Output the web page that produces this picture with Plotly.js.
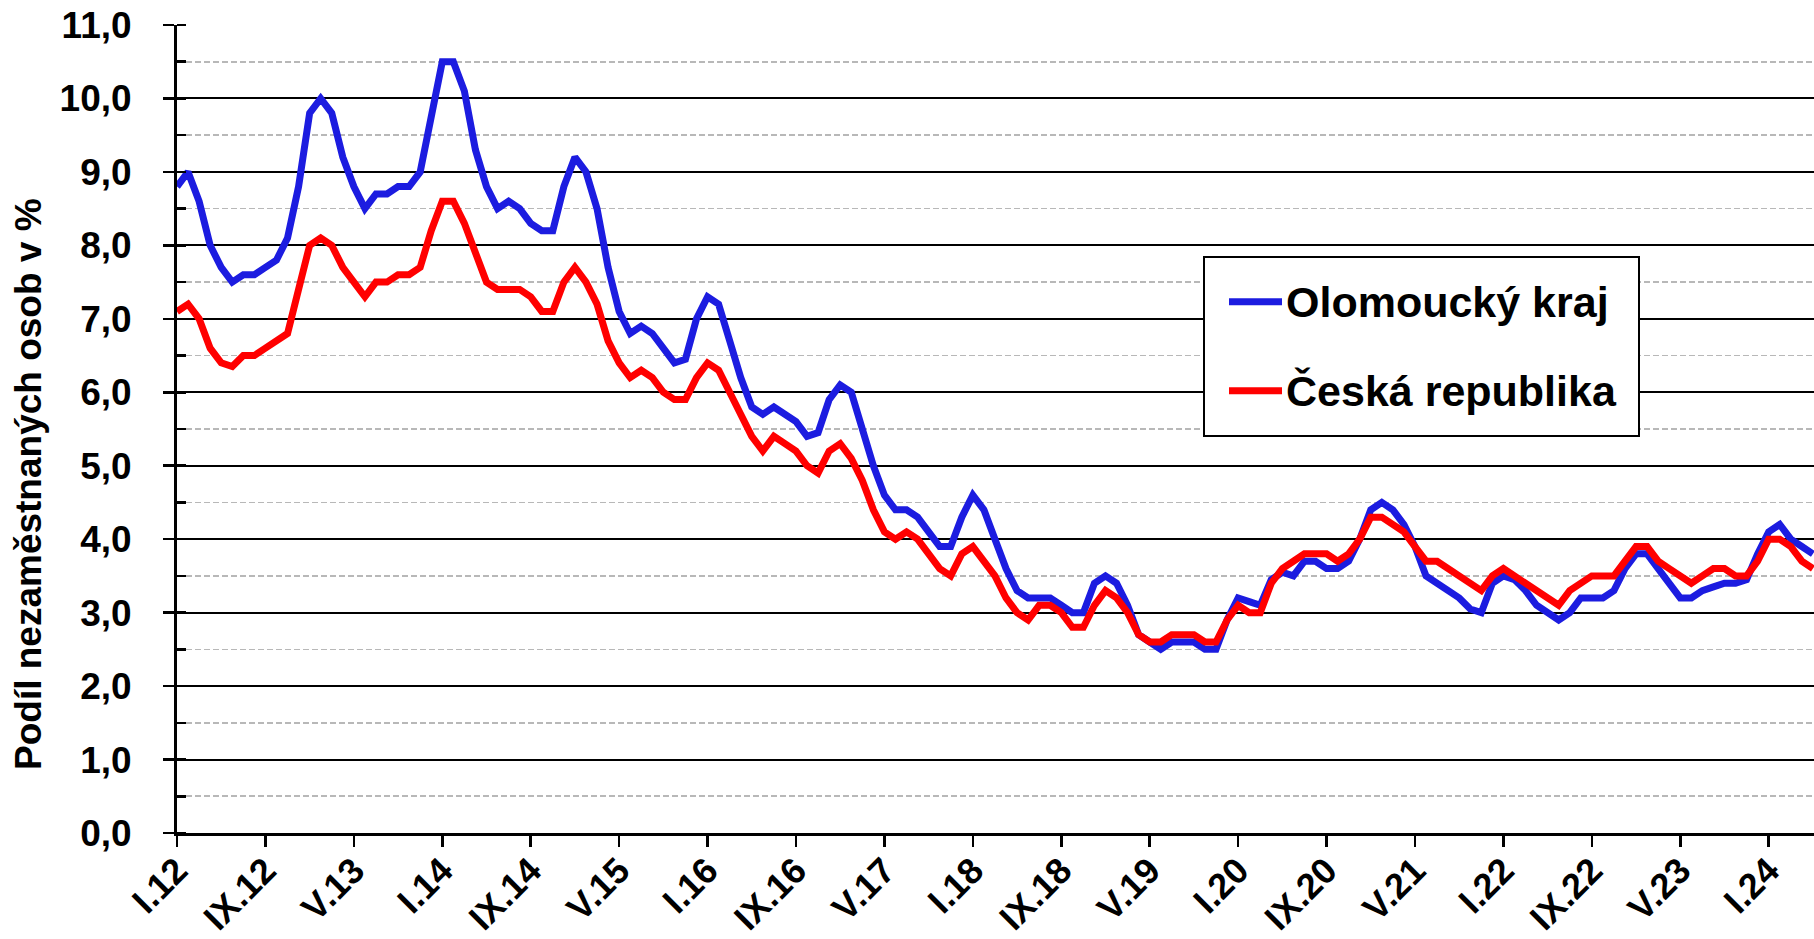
<!DOCTYPE html>
<html>
<head>
<meta charset="utf-8">
<script src="https://cdn.plot.ly/plotly-3.0.1.min.js"></script>
<style>
html, body { margin: 0; padding: 0; background: #ffffff; }
#chart { width: 1814px; height: 939px; }
</style>
</head>
<body>
<div id="chart"></div>
<script>
// ---- data ----
const romanMonths = ['I','II','III','IV','V','VI','VII','VIII','IX','X','XI','XII'];
const yearLabels = ['12','13','14','15','16','17','18','19','20','21','22','23','24'];
const pointCount = 149; // I.12 ... V.24

const months = [];
for (const yy of yearLabels) {
  for (const mm of romanMonths) {
    if (months.length < pointCount) months.push(mm + '.' + yy);
  }
}

const olomouckyKraj = [
  8.8, 9.0, 8.6, 8.0, 7.7, 7.5, 7.6, 7.6, 7.7, 7.8, 8.1, 8.8,
  9.8, 10.0, 9.8, 9.2, 8.8, 8.5, 8.7, 8.7, 8.8, 8.8, 9.0, 9.8,
  10.5, 10.5, 10.1, 9.3, 8.8, 8.5, 8.6, 8.5, 8.3, 8.2, 8.2, 8.8,
  9.2, 9.0, 8.5, 7.7, 7.1, 6.8, 6.9, 6.8, 6.6, 6.4, 6.45, 7.0,
  7.3, 7.2, 6.7, 6.2, 5.8, 5.7, 5.8, 5.7, 5.6, 5.4, 5.45, 5.9,
  6.1, 6.0, 5.5, 5.0, 4.6, 4.4, 4.4, 4.3, 4.1, 3.9, 3.9, 4.3,
  4.6, 4.4, 4.0, 3.6, 3.3, 3.2, 3.2, 3.2, 3.1, 3.0, 3.0, 3.4,
  3.5, 3.4, 3.1, 2.7, 2.6, 2.5, 2.6, 2.6, 2.6, 2.5, 2.5, 2.9,
  3.2, 3.15, 3.1, 3.45, 3.55, 3.5, 3.7, 3.7, 3.6, 3.6, 3.7, 4.0,
  4.4, 4.5, 4.4, 4.2, 3.9, 3.5, 3.4, 3.3, 3.2, 3.05, 3.0, 3.4,
  3.5, 3.45, 3.3, 3.1, 3.0, 2.9, 3.0, 3.2, 3.2, 3.2, 3.3, 3.6,
  3.8, 3.8, 3.6, 3.4, 3.2, 3.2, 3.3, 3.35, 3.4, 3.4, 3.45, 3.8,
  4.1, 4.2, 4.0, 3.9, 3.8
];

const ceskaRepublika = [
  7.1, 7.2, 7.0, 6.6, 6.4, 6.35, 6.5, 6.5, 6.6, 6.7, 6.8, 7.4,
  8.0, 8.1, 8.0, 7.7, 7.5, 7.3, 7.5, 7.5, 7.6, 7.6, 7.7, 8.2,
  8.6, 8.6, 8.3, 7.9, 7.5, 7.4, 7.4, 7.4, 7.3, 7.1, 7.1, 7.5,
  7.7, 7.5, 7.2, 6.7, 6.4, 6.2, 6.3, 6.2, 6.0, 5.9, 5.9, 6.2,
  6.4, 6.3, 6.0, 5.7, 5.4, 5.2, 5.4, 5.3, 5.2, 5.0, 4.9, 5.2,
  5.3, 5.1, 4.8, 4.4, 4.1, 4.0, 4.1, 4.0, 3.8, 3.6, 3.5, 3.8,
  3.9, 3.7, 3.5, 3.2, 3.0, 2.9, 3.1, 3.1, 3.0, 2.8, 2.8, 3.1,
  3.3, 3.2, 3.0, 2.7, 2.6, 2.6, 2.7, 2.7, 2.7, 2.6, 2.6, 2.9,
  3.1, 3.0, 3.0, 3.4, 3.6, 3.7, 3.8, 3.8, 3.8, 3.7, 3.8, 4.0,
  4.3, 4.3, 4.2, 4.1, 3.9, 3.7, 3.7, 3.6, 3.5, 3.4, 3.3, 3.5,
  3.6, 3.5, 3.4, 3.3, 3.2, 3.1, 3.3, 3.4, 3.5, 3.5, 3.5, 3.7,
  3.9, 3.9, 3.7, 3.6, 3.5, 3.4, 3.5, 3.6, 3.6, 3.5, 3.5, 3.7,
  4.0, 4.0, 3.9, 3.7, 3.6
];

const xTickLabels = ['I.12','IX.12','V.13','I.14','IX.14','V.15','I.16','IX.16','V.17',
  'I.18','IX.18','V.19','I.20','IX.20','V.21','I.22','IX.22','V.23','I.24'];

const seriesNames = ['Olomoucký kraj', 'Česká republika'];
const seriesColors = ['#1c1ce0', '#ff0000'];
const yTitle = 'Podíl nezaměstnaných osob v %';

// ---- layout geometry (pixels) ----
const W = 1814, H = 939;
const M = { l: 177, r: 0, t: 25, b: 106 };
const PW = W - M.l - M.r, PH = H - M.t - M.b;
const px = v => (v - M.l) / PW;
const py = v => (H - M.b - v) / PH;

const FONT = 'Liberation Sans, Arial, sans-serif';

const traces = [
  { x: months, y: olomouckyKraj, name: seriesNames[0], type: 'scatter', mode: 'lines',
    line: { color: seriesColors[0], width: 7, shape: 'linear' }, showlegend: false },
  { x: months, y: ceskaRepublika, name: seriesNames[1], type: 'scatter', mode: 'lines',
    line: { color: seriesColors[1], width: 7, shape: 'linear' }, showlegend: false }
];

const legBox = { x0: 1204, x1: 1639, y0: 257, y1: 436 };
const legRows = [301.7, 390.7];

const shapes = [
  { type: 'rect', xref: 'paper', yref: 'paper', layer: 'above',
    x0: px(legBox.x0), x1: px(legBox.x1), y0: py(legBox.y1), y1: py(legBox.y0),
    fillcolor: '#ffffff', line: { color: '#000000', width: 2 } }
];
const annotations = [
  { xref: 'paper', yref: 'paper', x: px(29), y: py(484), text: yTitle, textangle: -90,
    showarrow: false, xanchor: 'center', yanchor: 'middle',
    font: { family: FONT, size: 37, color: '#000', weight: 700 } }
];
seriesNames.forEach((nm, i) => {
  shapes.push({ type: 'line', xref: 'paper', yref: 'paper', layer: 'above',
    x0: px(1229), x1: px(1282), y0: py(legRows[i]), y1: py(legRows[i]),
    line: { color: seriesColors[i], width: 7 } });
  annotations.push({ xref: 'paper', yref: 'paper', x: px(1284), y: py(legRows[i]),
    text: nm, showarrow: false, xanchor: 'left', yanchor: 'middle',
    font: { family: FONT, size: 43, color: '#000', weight: 700 } });
});

const layout = {
  width: W, height: H,
  margin: M,
  paper_bgcolor: '#ffffff', plot_bgcolor: '#ffffff',
  separators: ', ',
  showlegend: false,
  font: { family: FONT, color: '#000' },
  xaxis: {
    type: 'category',
    range: [0, pointCount - 1 + 0.1],
    tickmode: 'array', tickvals: xTickLabels, ticktext: xTickLabels,
    tickangle: -45,
    ticks: 'outside', ticklen: 11, tickwidth: 2.5, tickcolor: '#000',
    ticklabelstandoff: -12,
    showline: true, linecolor: '#000', linewidth: 3,
    showgrid: false, zeroline: false,
    tickfont: { family: FONT, size: 36, color: '#000', weight: 700 },
    fixedrange: true
  },
  yaxis: {
    range: [0, 11],
    tickmode: 'linear', tick0: 0, dtick: 1, tickformat: '.1f',
    ticks: 'outside', ticklen: 11, tickwidth: 2.5, tickcolor: '#000',
    ticklabelstandoff: 24,
    showline: true, linecolor: '#000', linewidth: 3,
    showgrid: true, gridcolor: '#000000', gridwidth: 2,
    zeroline: false,
    minor: { dtick: 0.5, showgrid: true, gridcolor: '#b8b8b8', gridwidth: 1.6,
             griddash: '6px,3px', ticks: 'inside', ticklen: 9, tickwidth: 2.5, tickcolor: '#000' },
    tickfont: { family: FONT, size: 37, color: '#000', weight: 700 },
    fixedrange: true
  },
  yaxis2: {
    overlaying: 'y', anchor: 'x', side: 'left',
    range: [0, 11], tickmode: 'linear', tick0: 0, dtick: 1,
    ticks: 'inside', ticklen: 9, tickwidth: 2.5, tickcolor: '#000',
    showticklabels: false, showgrid: false, showline: false, zeroline: false,
    fixedrange: true
  },
  shapes: shapes,
  annotations: annotations
};

Plotly.newPlot('chart', traces, layout, { displayModeBar: false, staticPlot: true });
</script>
</body>
</html>
